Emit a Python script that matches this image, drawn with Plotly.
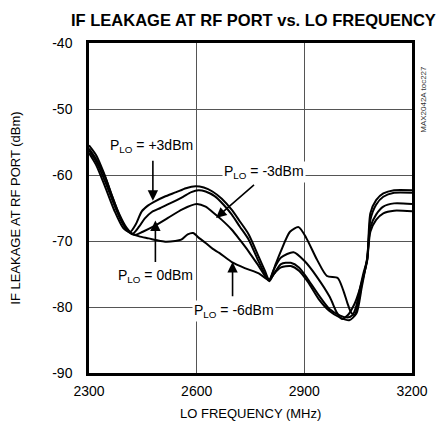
import plotly.graph_objects as go

# LO frequency (MHz) and IF leakage at RF port (dBm) for each LO drive level
freq_p3 = [2300, 2320, 2340, 2360, 2380, 2400, 2415, 2430, 2447, 2465, 2480, 2510, 2543, 2570,
           2597, 2620, 2644, 2670, 2698, 2720, 2745, 2773, 2790, 2802, 2815, 2835, 2862, 2885,
           2910, 2940, 2970, 3000, 3020, 3035, 3045, 3055, 3065, 3075, 3084, 3100, 3120, 3150, 3200]
leak_p3 = [-55.5, -57.0, -59.5, -62.5, -65.5, -67.8, -68.6, -67.5, -65.5, -64.6, -64.1, -63.3, -62.6, -62.0,
           -61.7, -61.9, -62.5, -63.6, -65.3, -67.0, -69.0, -72.4, -74.5, -75.9, -75.0, -73.5, -73.3, -74.0,
           -75.8, -78.2, -80.3, -81.3, -81.6, -81.2, -79.8, -77.2, -74.8, -72.8, -65.8, -63.8, -62.8, -62.3, -62.3]

freq_m3 = [2300, 2320, 2345, 2365, 2385, 2405, 2422, 2440, 2455, 2475, 2499, 2530, 2562, 2585,
           2605, 2625, 2650, 2675, 2698, 2720, 2745, 2770, 2790, 2802, 2815, 2835, 2870, 2900,
           2936, 2971, 2990, 3004, 3020, 3040, 3055, 3065, 3075, 3084, 3100, 3120, 3150, 3200]
leak_m3 = [-56.0, -57.6, -60.3, -63.3, -66.0, -68.0, -68.9, -67.8, -66.6, -65.6, -65.0, -64.2, -63.3, -62.6,
           -62.3, -62.5, -63.2, -64.5, -66.0, -67.8, -69.8, -72.8, -75.0, -75.9, -74.3, -72.5, -71.7, -73.0,
           -75.5, -78.5, -80.8, -81.8, -81.3, -79.5, -77.2, -75.2, -73.0, -66.8, -64.5, -63.3, -62.7, -62.7]

freq_0 = [2300, 2320, 2345, 2370, 2390, 2410, 2428, 2450, 2480, 2520, 2560, 2600, 2625, 2644,
          2670, 2698, 2720, 2745, 2773, 2802, 2815, 2835, 2862, 2885, 2910, 2940, 2970, 3000,
          3025, 3045, 3060, 3075, 3084, 3100, 3120, 3150, 3200]
leak_0 = [-56.3, -58.0, -61.0, -64.5, -67.0, -68.6, -69.1, -68.6, -67.8, -66.5, -65.2, -64.4, -64.8, -65.6,
          -66.8, -68.3, -69.8, -71.6, -73.8, -76.1, -75.0, -74.0, -73.8, -74.5, -76.2, -78.8, -80.6, -81.6,
          -82.0, -81.0, -77.0, -72.6, -67.9, -66.0, -64.8, -64.3, -64.4]

freq_m6 = [2300, 2320, 2345, 2370, 2395, 2420, 2440, 2466, 2490, 2512, 2540, 2557, 2575, 2590,
           2608, 2625, 2645, 2663, 2698, 2734, 2773, 2802, 2820, 2835, 2860, 2884, 2905, 2936,
           2963, 2993, 3008, 3020, 3030, 3040, 3050, 3060, 3075, 3084, 3100, 3120, 3150, 3200]
leak_m6 = [-56.7, -58.5, -61.8, -65.3, -68.0, -68.9, -69.3, -69.6, -69.9, -70.1, -70.0, -69.8, -69.0, -68.8,
           -69.6, -70.3, -71.2, -71.8, -73.2, -74.1, -74.9, -75.9, -73.5, -71.5, -68.6, -67.9, -69.5, -72.9,
           -75.3, -75.6, -77.4, -79.4, -80.8, -81.2, -79.5, -76.5, -72.9, -68.6, -66.8, -65.8, -65.4, -65.5]

series = [
    ("P<sub>LO</sub> = +3dBm", freq_p3, leak_p3),
    ("P<sub>LO</sub> = -3dBm", freq_m3, leak_m3),
    ("P<sub>LO</sub> = 0dBm", freq_0, leak_0),
    ("P<sub>LO</sub> = -6dBm", freq_m6, leak_m6),
]

x_ticks = [2300, 2600, 2900, 3200]
x_tick_text = ["2300", "2600", "2900", "3200"]
y_ticks = [-90, -80, -70, -60, -50, -40]
y_tick_text = ["-90", "-80", "-70", "-60", "-50", "-40"]

FONT = "Liberation Sans, Arial, sans-serif"

fig = go.Figure()
for name, fx, fy in series:
    fig.add_trace(go.Scatter(
        x=fx, y=fy, mode="lines", name=name,
        line=dict(color="black", width=2, shape="spline", smoothing=0.7),
        showlegend=False, hoverinfo="skip",
    ))

# curve labels: (text, label x, label y, arrow tail x, tail y, arrow tip x, tip y)
labels = [
    ("P<sub>LO</sub> = +3dBm", 2474, -55.6, 2478, -57.6, 2478, -63.9),
    ("P<sub>LO</sub> = -3dBm", 2788, -59.6, 2764, -61.3, 2654, -66.5),
    ("P<sub>LO</sub> = 0dBm", 2485, -75.3, 2485, -73.4, 2485, -66.9),
    ("P<sub>LO</sub> = -6dBm", 2704, -80.6, 2700, -78.6, 2700, -73.2),
]
for text, lx, ly, tx, ty, hx, hy in labels:
    fig.add_annotation(
        x=hx, y=hy, ax=tx, ay=ty, axref="x", ayref="y", xref="x", yref="y",
        text="", showarrow=True, arrowhead=2, arrowsize=1.3, arrowwidth=1.6,
        arrowcolor="black", standoff=0, startstandoff=0,
    )
    fig.add_annotation(
        x=lx, y=ly, xref="x", yref="y", text=text, showarrow=False,
        font=dict(family=FONT, size=14, color="black"),
        bgcolor="white", borderpad=1, xanchor="center", yanchor="middle",
    )

# titles and side tag
fig.add_annotation(
    x=0.51, y=1.07, xref="paper", yref="paper", showarrow=False,
    text="<b>IF LEAKAGE AT RF PORT vs. LO FREQUENCY</b>",
    font=dict(family=FONT, size=16.5, color="black"), xanchor="center", yanchor="middle",
)
fig.add_annotation(
    x=0.5, y=-0.122, xref="paper", yref="paper", showarrow=False,
    text="LO FREQUENCY (MHz)",
    font=dict(family=FONT, size=13, color="black"), xanchor="center", yanchor="middle",
)
fig.add_annotation(
    x=-0.23, y=0.5, xref="paper", yref="paper", showarrow=False,
    text="IF LEAKAGE AT RF PORT (dBm)", textangle=-90,
    font=dict(family=FONT, size=13, color="black"), xanchor="center", yanchor="middle",
)
fig.add_annotation(
    x=1.033, y=0.83, xref="paper", yref="paper", showarrow=False,
    text="MAX2042A toc227", textangle=-90,
    font=dict(family=FONT, size=8, color="#333"), xanchor="center", yanchor="middle",
)

axis_common = dict(
    showline=True, linewidth=2.5, linecolor="black", mirror=True,
    showgrid=True, gridcolor="#555", gridwidth=1, zeroline=False,
    ticks="", tickfont=dict(family=FONT, size=14, color="black"),
)
fig.update_xaxes(range=[2300, 3200], tickvals=x_ticks, ticktext=x_tick_text,
                 ticklabelstandoff=3, **axis_common)
fig.update_yaxes(range=[-90, -40], tickvals=y_ticks, ticktext=y_tick_text,
                 ticklabelstandoff=11, **axis_common)

fig.update_layout(
    width=440, height=437,
    margin=dict(l=89, r=21, t=43, b=64),
    paper_bgcolor="white", plot_bgcolor="white",
)

fig.write_html("out.html")
